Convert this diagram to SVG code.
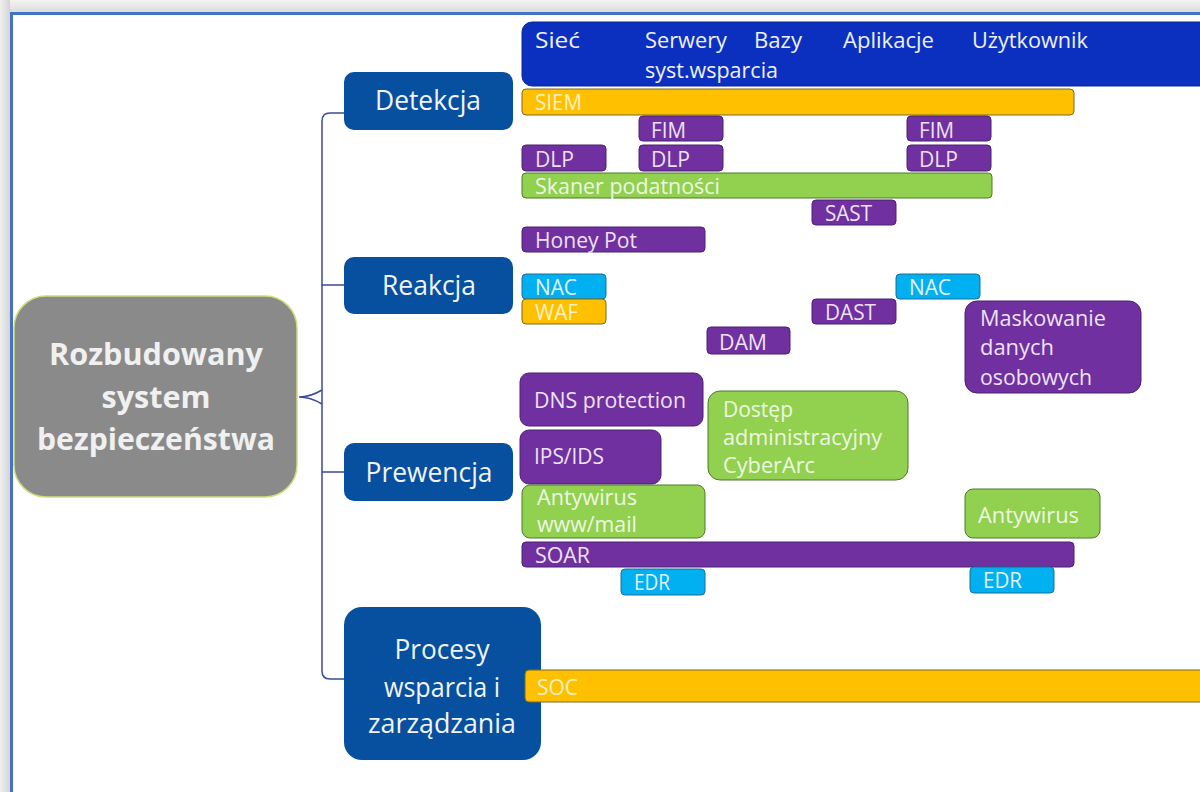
<svg xmlns="http://www.w3.org/2000/svg" width="1200" height="792" viewBox="0 0 1200 792">
<defs>
<style>
text{font-family:"Open Sans","Noto Sans","DejaVu Sans",sans-serif}
.t{font-size:22px}
.cat{fill:#07509f}
.catt{fill:#f2f4fa;font-size:27px;text-anchor:middle}
.pur{fill:#7030a0;stroke:#4a2070;stroke-width:1}
.purt{fill:#ece3f6}
.grn{fill:#92d050;stroke:#4f7a2a;stroke-width:1}
.grnt{fill:#eef7e2}
.org{fill:#ffc000;stroke:#7a6a20;stroke-width:1}
.orgt{fill:#fff1c4}
.cyn{fill:#00b0f0;stroke:#1a6f9a;stroke-width:1}
.cynt{fill:#e4f3fb}
.conn{fill:none;stroke:#3d4a9c;stroke-width:1.5}
</style>
<linearGradient id="shT" x1="0" y1="0" x2="0" y2="1"><stop offset="0" stop-color="#f4f4f4"/><stop offset="1" stop-color="#dcdcdc"/></linearGradient>
<linearGradient id="shL" x1="0" y1="0" x2="1" y2="0"><stop offset="0" stop-color="#f0f0f0"/><stop offset="1" stop-color="#d4d4d4"/></linearGradient>
</defs>
<rect width="1200" height="792" fill="#ffffff"/>
<rect x="0" y="0" width="1200" height="12" fill="url(#shT)"/>
<rect x="0" y="0" width="10" height="792" fill="url(#shL)"/>
<path d="M11.5 792 V13.5 H1200" fill="none" stroke="#4472c4" stroke-width="3"/>

<g id="connectors">
<path class="conn" d="M299 397 C306 397 312 396 322 390 M299 397 C306 397 312 398 322 404"/>
<path class="conn" d="M344 113 H330 Q322 113 322 121 V671 Q322 679 330 679 H345"/>
<path class="conn" d="M322 285 H344 M322 472 H344"/>
</g>

<g id="root">
<rect x="14" y="296" width="283" height="201" rx="32" fill="#8a8a8a" stroke="#cfdc7a" stroke-width="1.5"/>
<text x="156" y="365" font-size="31" font-weight="bold" fill="#f0f0f0" text-anchor="middle" textLength="214" lengthAdjust="spacingAndGlyphs">Rozbudowany</text>
<text x="156" y="408" font-size="31" font-weight="bold" fill="#f0f0f0" text-anchor="middle" textLength="109" lengthAdjust="spacingAndGlyphs">system</text>
<text x="156" y="450" font-size="31" font-weight="bold" fill="#f0f0f0" text-anchor="middle" textLength="238" lengthAdjust="spacingAndGlyphs">bezpieczeństwa</text>
</g>

<g id="detekcja"><rect class="cat" x="344" y="72" width="169" height="58" rx="10"/><text class="catt" x="428" y="110" textLength="106" lengthAdjust="spacingAndGlyphs">Detekcja</text></g>
<g id="reakcja"><rect class="cat" x="344" y="257" width="169" height="57" rx="10"/><text class="catt" x="429" y="295" textLength="94" lengthAdjust="spacingAndGlyphs">Reakcja</text></g>
<g id="prewencja"><rect class="cat" x="344" y="443" width="169" height="58" rx="10"/><text class="catt" x="429" y="482" textLength="127" lengthAdjust="spacingAndGlyphs">Prewencja</text></g>
<g id="procesy"><rect class="cat" x="344" y="607" width="197" height="153" rx="18"/>
<text class="catt" x="442" y="659" textLength="95" lengthAdjust="spacingAndGlyphs">Procesy</text>
<text class="catt" x="442" y="697" textLength="116" lengthAdjust="spacingAndGlyphs">wsparcia i</text>
<text class="catt" x="442" y="733" textLength="148" lengthAdjust="spacingAndGlyphs">zarządzania</text></g>

<g id="header">
<rect x="522" y="22" width="700" height="64" rx="10" fill="#0b30c0" stroke="#0a2590" stroke-width="1"/>
<g class="t" fill="#eef0fb">
<text x="535" y="48" textLength="45" lengthAdjust="spacingAndGlyphs">Sieć</text>
<text x="645" y="48" textLength="82" lengthAdjust="spacingAndGlyphs">Serwery</text>
<text x="754" y="48" textLength="48" lengthAdjust="spacingAndGlyphs">Bazy</text>
<text x="843" y="48" textLength="91" lengthAdjust="spacingAndGlyphs">Aplikacje</text>
<text x="972" y="48" textLength="116" lengthAdjust="spacingAndGlyphs">Użytkownik</text>
<text x="645" y="78" textLength="133" lengthAdjust="spacingAndGlyphs">syst.wsparcia</text>
</g>
</g>

<g id="siem"><rect class="org" x="522" y="89" width="552" height="26" rx="4"/><text class="t orgt" x="535" y="110" textLength="47" lengthAdjust="spacingAndGlyphs">SIEM</text></g>
<g id="fim1"><rect class="pur" x="639" y="116" width="84" height="25" rx="4"/><text class="t purt" x="651" y="138" textLength="35" lengthAdjust="spacingAndGlyphs">FIM</text></g>
<g id="fim2"><rect class="pur" x="907" y="116" width="84" height="25" rx="4"/><text class="t purt" x="919" y="138" textLength="35" lengthAdjust="spacingAndGlyphs">FIM</text></g>
<g id="dlp1"><rect class="pur" x="522" y="145" width="84" height="26" rx="4"/><text class="t purt" x="535" y="167" textLength="39" lengthAdjust="spacingAndGlyphs">DLP</text></g>
<g id="dlp2"><rect class="pur" x="639" y="145" width="84" height="26" rx="4"/><text class="t purt" x="651" y="167" textLength="39" lengthAdjust="spacingAndGlyphs">DLP</text></g>
<g id="dlp3"><rect class="pur" x="907" y="145" width="84" height="26" rx="4"/><text class="t purt" x="919" y="167" textLength="39" lengthAdjust="spacingAndGlyphs">DLP</text></g>
<g id="skaner"><rect class="grn" x="522" y="173" width="470" height="25" rx="4"/><text class="t grnt" x="535" y="194" textLength="185" lengthAdjust="spacingAndGlyphs">Skaner podatności</text></g>
<g id="sast"><rect class="pur" x="812" y="200" width="84" height="25" rx="4"/><text class="t purt" x="825" y="221" textLength="47" lengthAdjust="spacingAndGlyphs">SAST</text></g>
<g id="honeypot"><rect class="pur" x="522" y="227" width="183" height="25" rx="4"/><text class="t purt" x="535" y="248" textLength="102" lengthAdjust="spacingAndGlyphs">Honey Pot</text></g>
<g id="nac1"><rect class="cyn" x="522" y="274" width="84" height="25" rx="4"/><text class="t cynt" x="535" y="295" textLength="42" lengthAdjust="spacingAndGlyphs">NAC</text></g>
<g id="nac2"><rect class="cyn" x="896" y="274" width="84" height="25" rx="4"/><text class="t cynt" x="909" y="295" textLength="42" lengthAdjust="spacingAndGlyphs">NAC</text></g>
<g id="waf"><rect class="org" x="522" y="299" width="84" height="25" rx="4"/><text class="t orgt" x="535" y="320" textLength="43" lengthAdjust="spacingAndGlyphs">WAF</text></g>
<g id="dast"><rect class="pur" x="812" y="299" width="84" height="25" rx="4"/><text class="t purt" x="825" y="320" textLength="51" lengthAdjust="spacingAndGlyphs">DAST</text></g>
<g id="dam"><rect class="pur" x="707" y="327" width="83" height="27" rx="4"/><text class="t purt" x="719" y="350" textLength="48" lengthAdjust="spacingAndGlyphs">DAM</text></g>
<g id="maskowanie"><rect class="pur" x="965" y="301" width="176" height="92" rx="12"/>
<text class="t purt" x="980" y="326" textLength="126" lengthAdjust="spacingAndGlyphs">Maskowanie</text>
<text class="t purt" x="980" y="355" textLength="74" lengthAdjust="spacingAndGlyphs">danych</text>
<text class="t purt" x="980" y="385" textLength="112" lengthAdjust="spacingAndGlyphs">osobowych</text></g>
<g id="dns"><rect class="pur" x="520" y="373" width="183" height="53" rx="9"/><text class="t purt" x="534" y="408" textLength="152" lengthAdjust="spacingAndGlyphs">DNS protection</text></g>
<g id="ipsids"><rect class="pur" x="520" y="430" width="141" height="54" rx="9"/><text class="t purt" x="534" y="464" textLength="70" lengthAdjust="spacingAndGlyphs">IPS/IDS</text></g>
<g id="dostep"><rect class="grn" x="708" y="391" width="200" height="89" rx="12"/>
<text class="t grnt" x="723" y="417" textLength="70" lengthAdjust="spacingAndGlyphs">Dostęp</text>
<text class="t grnt" x="723" y="445" textLength="159" lengthAdjust="spacingAndGlyphs">administracyjny</text>
<text class="t grnt" x="723" y="473" textLength="92" lengthAdjust="spacingAndGlyphs">CyberArc</text></g>
<g id="antywirus1"><rect class="grn" x="522" y="485" width="183" height="53" rx="8"/>
<text class="t grnt" x="537" y="505" textLength="100" lengthAdjust="spacingAndGlyphs">Antywirus</text>
<text class="t grnt" x="537" y="532" textLength="100" lengthAdjust="spacingAndGlyphs">www/mail</text></g>
<g id="antywirus2"><rect class="grn" x="965" y="489" width="135" height="49" rx="8"/><text class="t grnt" x="978" y="523" textLength="101" lengthAdjust="spacingAndGlyphs">Antywirus</text></g>
<g id="soar"><rect class="pur" x="522" y="542" width="552" height="25" rx="4"/><text class="t purt" x="535" y="563" textLength="55" lengthAdjust="spacingAndGlyphs">SOAR</text></g>
<g id="edr1"><rect class="cyn" x="621" y="569" width="84" height="26" rx="4"/><text class="t cynt" x="634" y="590" textLength="36" lengthAdjust="spacingAndGlyphs">EDR</text></g>
<g id="edr2"><rect class="cyn" x="970" y="567" width="84" height="26" rx="4"/><text class="t cynt" x="983" y="588" textLength="39" lengthAdjust="spacingAndGlyphs">EDR</text></g>
<g id="soc"><rect class="org" x="525" y="670" width="700" height="32" rx="4"/><text class="t orgt" x="537" y="695" textLength="41" lengthAdjust="spacingAndGlyphs">SOC</text></g>
</svg>
